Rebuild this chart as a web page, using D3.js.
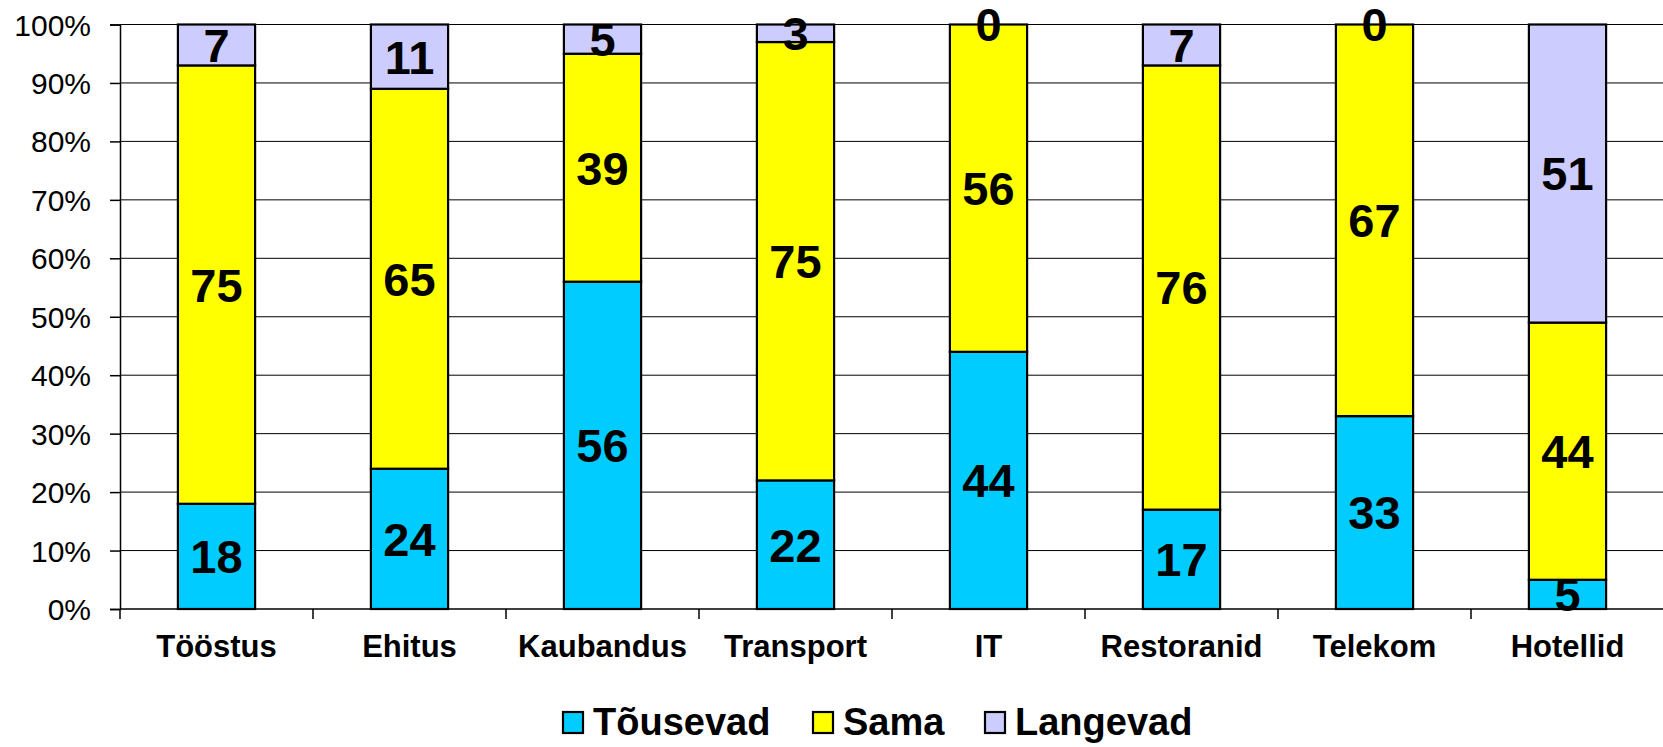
<!DOCTYPE html>
<html>
<head>
<meta charset="utf-8">
<script src="https://cdn.jsdelivr.net/npm/d3@7"></script>
<style>
  html, body { margin: 0; padding: 0; background: #fff; }
  svg { display: block; font-family: "Liberation Sans", Arial, sans-serif; }
</style>
</head>
<body>
<svg id="chart" width="1663" height="747"></svg>
<script>
const categories = ["Tööstus", "Ehitus", "Kaubandus", "Transport", "IT", "Restoranid", "Telekom", "Hotellid"];
const seriesNames = ["Tõusevad", "Sama", "Langevad"];
const tousevad = [18, 24, 56, 22, 44, 17, 33, 5];
const sama = [75, 65, 39, 75, 56, 76, 67, 44];
const langevad = [7, 11, 5, 3, 0, 7, 0, 51];
const seriesColors = ["#00CCFF", "#FFFF00", "#CCCCFF"];
const yTicks = [0, 10, 20, 30, 40, 50, 60, 70, 80, 90, 100];

(function () {
const svg = d3.select("#chart");
const mLeft = 120, mRight = 1664, mTop = 24.5, mBottom = 609;

const rows = categories.map((c, i) => ({ cat: c, "Tõusevad": tousevad[i], "Sama": sama[i], "Langevad": langevad[i] }));
const stacked = d3.stack().keys(seriesNames)(rows);

const x = d3.scaleBand().domain(categories).range([mLeft, mRight]).paddingInner(0.6).paddingOuter(0.3);
const y = d3.scaleLinear().domain([0, 100]).range([mBottom, mTop]);
const color = d3.scaleOrdinal().domain(seriesNames).range(seriesColors);

// gridlines
svg.append("g").selectAll("line").data(yTicks.filter(d => d > 0)).join("line")
  .attr("x1", mLeft).attr("x2", 1663)
  .attr("y1", d => y(d)).attr("y2", d => y(d))
  .attr("stroke", "#000").attr("stroke-width", 1);

// y axis
const yAxis = d3.axisLeft(y).tickValues(yTicks).tickFormat(d => d + "%").tickSize(10).tickPadding(19);
const gy = svg.append("g").attr("transform", `translate(${mLeft},0)`).call(yAxis);
gy.select(".domain").attr("stroke", "#000").attr("stroke-width", 1.5);
gy.selectAll(".tick line").attr("stroke", "#000").attr("stroke-width", 1.5);
gy.selectAll(".tick text").attr("font-size", 30).attr("fill", "#000")
  .attr("font-family", "'Liberation Sans', Arial, sans-serif").attr("dy", "0.35em");

// bars
const groups = svg.append("g").selectAll("g").data(stacked).join("g")
  .attr("fill", d => color(d.key));
groups.selectAll("rect").data(d => d).join("rect")
  .attr("x", d => x(d.data.cat))
  .attr("width", x.bandwidth())
  .attr("y", d => y(d[1]))
  .attr("height", d => y(d[0]) - y(d[1]))
  .attr("stroke", "#000").attr("stroke-width", 2.2);

// x axis line and ticks at category boundaries
svg.append("line").attr("x1", mLeft).attr("x2", 1663).attr("y1", mBottom).attr("y2", mBottom)
  .attr("stroke", "#000").attr("stroke-width", 1.5);
const boundaries = categories.map(c => x(c) - x.step() * x.paddingOuter()).concat([mRight]);
svg.append("g").selectAll("line").data(boundaries).join("line")
  .attr("x1", d => d).attr("x2", d => d).attr("y1", mBottom).attr("y2", mBottom + 10)
  .attr("stroke", "#000").attr("stroke-width", 1.5);

// category labels
svg.append("g").selectAll("text").data(categories).join("text")
  .attr("x", d => x(d) + x.bandwidth() / 2).attr("y", 657)
  .attr("text-anchor", "middle").attr("font-size", 31).attr("font-weight", "bold")
  .text(d => d);

// data labels
stacked.forEach(s => {
  svg.append("g").selectAll("text").data(s).join("text")
    .attr("x", d => x(d.data.cat) + x.bandwidth() / 2)
    .attr("y", d => y((d[0] + d[1]) / 2))
    .attr("dy", "0.36em")
    .attr("text-anchor", "middle").attr("font-size", 47).attr("font-weight", "bold")
    .text(d => d.data[s.key]);
});

// legend
const legendX = [563, 813, 985];
const lg = svg.append("g").selectAll("g").data(seriesNames).join("g")
  .attr("transform", (d, i) => `translate(${legendX[i]},712)`);
lg.append("rect").attr("width", 20).attr("height", 21)
  .attr("fill", d => color(d)).attr("stroke", "#000").attr("stroke-width", 2.2);
lg.append("text").attr("x", 30).attr("y", 23).attr("font-size", 38).attr("font-weight", "bold")
  .text(d => d);
})();
</script>
</body>
</html>
